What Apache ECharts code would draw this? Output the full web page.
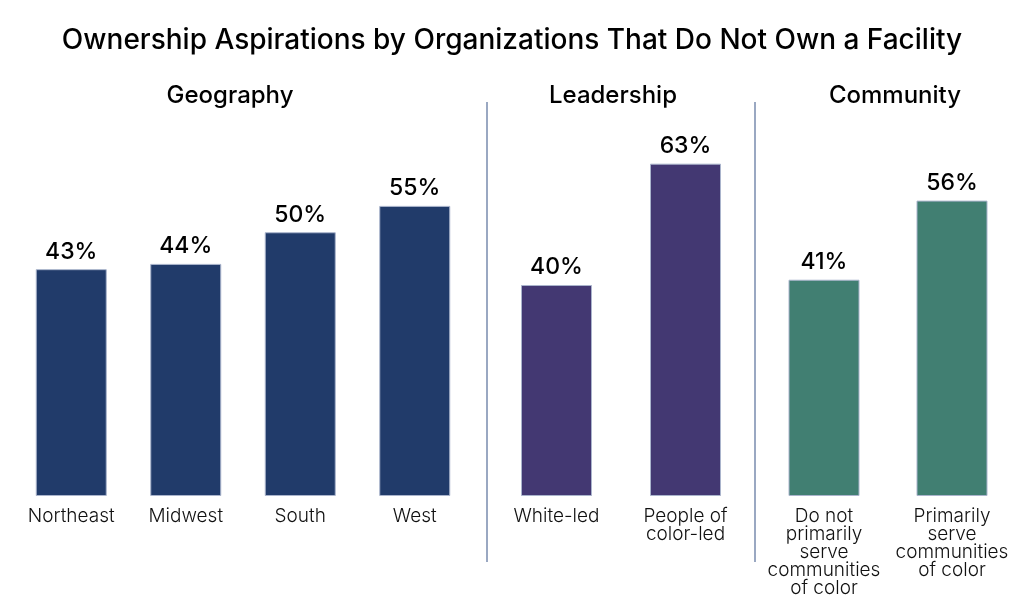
<!DOCTYPE html>
<html><head><meta charset="utf-8">
<script src="https://cdn.jsdelivr.net/npm/echarts@6/dist/echarts.min.js"></script>
<style>html,body{margin:0;padding:0;background:#fff}#c{width:1024px;height:614px}</style>
</head><body><div id="c"></div>
<script>
const geoCats = ['Northeast', 'Midwest', 'South', 'West'];
const geoVals = [43, 44, 50, 55];
const leadCats = ['White-led', 'People of\ncolor-led'];
const leadVals = [40, 63];
const commCats = ['Do not\nprimarily\nserve\ncommunities\nof color', 'Primarily\nserve\ncommunities\nof color'];
const commVals = [41, 56];
const groupTitles = ['Geography', 'Leadership', 'Community'];
const colors = ['#213b6a', '#433872', '#417f72'];

const chart = echarts.init(document.getElementById('c'));
const font = 'Inter';
const grids = [
  {left: 14, width: 458, top: 74, bottom: 118},
  {left: 492, width: 258, top: 74, bottom: 118},
  {left: 760, width: 256, top: 74, bottom: 118}
];
const cats = [geoCats, leadCats, commCats];
const vals = [geoVals, leadVals, commVals];
const centers = [225, 608, 890];

const option = {
  backgroundColor: '#fff',
  title: [
    {text: 'Ownership Aspirations by Organizations That Do Not Own a Facility', left: 'center', top: 22,
     textStyle: {fontFamily: font, fontSize: 28, fontWeight: 500, color: '#000'}},
  ].concat(groupTitles.map((t, i) => ({
    text: t, left: centers[i], top: 79, textAlign: 'center',
    textStyle: {fontFamily: font, fontSize: 24, fontWeight: 500, color: '#000'}
  }))),
  grid: grids,
  xAxis: cats.map((c, i) => ({
    type: 'category', gridIndex: i, data: c,
    axisLine: {show: false}, axisTick: {show: false},
    axisLabel: {interval: 0, margin: 11, fontFamily: font, fontSize: 19, fontWeight: 300, color: '#111', lineHeight: 18}
  })),
  yAxis: cats.map((c, i) => ({
    type: 'value', gridIndex: i, min: 0, max: 80, show: false, splitLine: {show: false}
  })),
  series: vals.map((v, i) => ({
    type: 'bar', xAxisIndex: i, yAxisIndex: i, data: v, barWidth: 71,
    itemStyle: {color: colors[i], borderColor: '#aab4cc', borderWidth: 1},
    label: {show: true, position: 'top', distance: 6, formatter: '{c}%',
      fontFamily: font, fontSize: 23, fontWeight: 500, color: '#000'},
    silent: true, animation: false
  })),
  graphic: [
    {type: 'line', shape: {x1: 487, y1: 102, x2: 487, y2: 562}, style: {stroke: '#9aa8c2', lineWidth: 2}},
    {type: 'line', shape: {x1: 755, y1: 102, x2: 755, y2: 562}, style: {stroke: '#9aa8c2', lineWidth: 2}}
  ],
  animation: false
};
chart.setOption(option);
</script></body></html>
